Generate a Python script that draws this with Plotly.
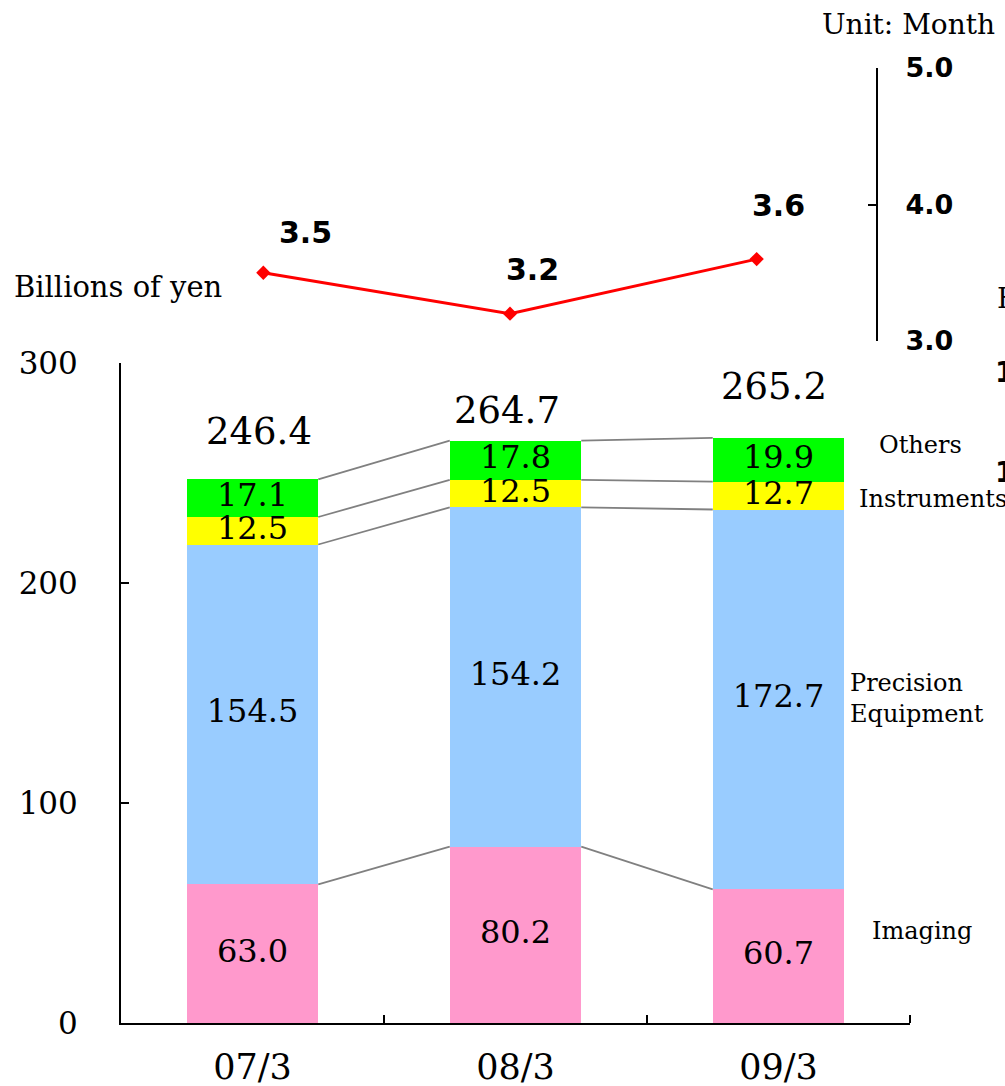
import plotly.graph_objects as go

# ---------------- data ----------------
categories = ["07/3", "08/3", "09/3"]
imaging = [63.0, 80.2, 60.7]
precision = [154.5, 154.2, 172.7]
instruments = [12.5, 12.5, 12.7]
others = [17.1, 17.8, 19.9]
totals = [246.4, 264.7, 265.2]
months = [3.5, 3.2, 3.6]
segment_names = ["Imaging", "Precision<br>Equipment", "Instruments", "Others"]
left_ticks = [0, 100, 200, 300]
right_ticks = [3.0, 4.0, 5.0]

# ---------------- layout helpers ----------------
W, H = 1005, 1086
def px(x):
    return x / W
def py(y):
    return 1 - y / H

SERIF = "DejaVu Serif"
SANS = "DejaVu Sans"
xs = list(range(len(categories)))
series = [imaging, precision, instruments, others]
colors = ["#FF99CC", "#99CCFF", "#FFFF00", "#00FF00"]
BAR_W = 0.5

fig = go.Figure()

# stacked cumulative values
bases = [0.0] * len(xs)
stack = []
for s in series:
    tops = [b + v for b, v in zip(bases, s)]
    stack.append((list(bases), tops))
    bases = tops

# connector lines between bars
cx, cy = [], []
for _, tops in stack:
    for i in range(len(xs) - 1):
        cx += [xs[i] + BAR_W / 2, xs[i + 1] - BAR_W / 2, None]
        cy += [tops[i], tops[i + 1], None]
fig.add_trace(go.Scatter(x=cx, y=cy, mode="lines",
                         line=dict(color="#808080", width=1.8),
                         hoverinfo="skip", showlegend=False))

# bars
for s, c, name in zip(series, colors, segment_names):
    fig.add_trace(go.Bar(x=xs, y=s, width=BAR_W, marker=dict(color=c, line=dict(width=0)),
                         name=name.replace("<br>", " "), showlegend=False))

# segment labels
for s, (b, t) in zip(series, stack):
    fig.add_trace(go.Scatter(
        x=xs, y=[(bb + tt) / 2 for bb, tt in zip(b, t)], mode="text",
        text=[f"{v:.1f}" for v in s], textposition="middle center",
        textfont=dict(family=SERIF, size=32, color="black"),
        cliponaxis=False, hoverinfo="skip", showlegend=False))

# months line
fig.add_trace(go.Scatter(x=xs, y=months, xaxis="x2", yaxis="y2", mode="lines+markers",
                         line=dict(color="#FF0000", width=3),
                         marker=dict(symbol="diamond", size=11, color="#FF0000"),
                         cliponaxis=False, showlegend=False))

annotations = []
# totals
total_shift = [48, 30, 51]
total_xshift = [6, -9, -5]
for i, t in enumerate(totals):
    annotations.append(dict(x=xs[i], y=stack[-1][1][i], xref="x", yref="y", text=f"{t:.1f}",
                            showarrow=False, yshift=total_shift[i], xshift=total_xshift[i],
                            font=dict(family=SERIF, size=37, color="black")))
# month labels
m_xshift = [42, 22, 22]
m_yshift = [40, 44, 54]
for i, m in enumerate(months):
    annotations.append(dict(x=xs[i], y=m, xref="x2", yref="y2", text=f"{m:.1f}",
                            showarrow=False, xshift=m_xshift[i], yshift=m_yshift[i],
                            font=dict(family=SANS, size=30, color="black", weight="bold")))
# segment names on right
name_pos = [(870, 931), (848, 698), (857, 499), (877, 445)]
for name, (x0, y0) in zip(segment_names, name_pos):
    annotations.append(dict(x=px(x0), y=py(y0), xref="paper", yref="paper", text=name,
                            xanchor="left", yanchor="middle", align="left", showarrow=False,
                            font=dict(family=SERIF, size=24, color="black")))
annotations.append(dict(x=px(12), y=py(287), xref="paper", yref="paper", text="Billions of yen",
                        xanchor="left", yanchor="middle", showarrow=False,
                        font=dict(family=SERIF, size=29, color="black")))
annotations.append(dict(x=px(820), y=py(25), xref="paper", yref="paper", text="Unit: Month",
                        xanchor="left", yanchor="middle", showarrow=False,
                        font=dict(family=SERIF, size=28, color="black")))
# partially cut-off texts at right edge
annotations.append(dict(x=px(995), y=py(298), xref="paper", yref="paper", text="F",
                        xanchor="left", yanchor="middle", showarrow=False,
                        font=dict(family=SERIF, size=28, color="black")))
for yy in (372, 472):
    annotations.append(dict(x=px(993), y=py(yy), xref="paper", yref="paper", text="1",
                            xanchor="left", yanchor="middle", showarrow=False,
                            font=dict(family=SANS, size=28, color="black", weight="bold")))

fig.update_layout(
    width=W, height=H, margin=dict(l=0, r=0, t=0, b=0, autoexpand=False),
    paper_bgcolor="white", plot_bgcolor="white",
    barmode="stack", bargap=0, showlegend=False,
    annotations=annotations,
    xaxis=dict(domain=[px(121), px(910)], range=[-0.5, 2.5], tickvals=xs, ticktext=categories,
               ticks="", showline=True, linecolor="black", linewidth=2, automargin=False,
               showgrid=False, zeroline=False, ticklabelstandoff=12,
               tickfont=dict(family=SERIF, size=35, color="black"),
               minor=dict(tickvals=[0.5, 1.5, 2.5], ticks="inside", ticklen=8,
                          tickcolor="black", tickwidth=1.5)),
    yaxis=dict(domain=[py(1023), py(363)], range=[0, 300], tickvals=left_ticks,
               ticks="inside", ticklen=8, tickcolor="black", tickwidth=1.5, automargin=False,
               showline=True, linecolor="black", linewidth=2, showgrid=False, zeroline=False,
               ticklabelstandoff=35, tickfont=dict(family=SERIF, size=31, color="black")),
    xaxis2=dict(domain=[px(140), px(880)], range=[-0.5, 2.5], anchor="y2", visible=False,
                automargin=False),
    yaxis2=dict(domain=[py(341), py(68)], range=[3, 5], tickvals=right_ticks, tickformat=".1f",
                anchor="free", position=px(877), side="right", automargin=False,
                ticks="inside", ticklen=8, tickcolor="black", tickwidth=1.5,
                showline=True, linecolor="black", linewidth=2, showgrid=False, zeroline=False,
                ticklabelstandoff=22,
                tickfont=dict(family=SANS, size=27, color="black", weight="bold")),
)

fig.write_html("out.html")
